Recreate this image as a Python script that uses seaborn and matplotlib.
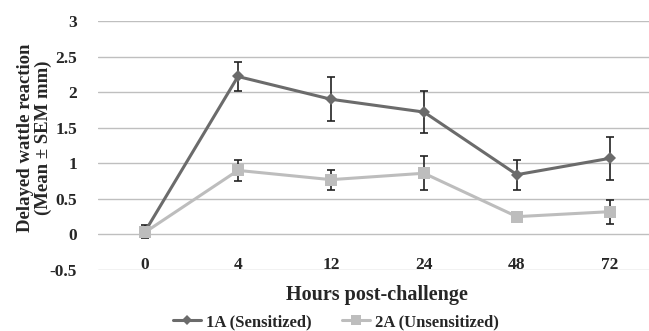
import matplotlib
matplotlib.use("Agg")
import matplotlib.pyplot as plt
import seaborn as sns
import pandas as pd

hours = ["0", "4", "12", "24", "48", "72"]
sensitized = [0.04, 2.22, 1.90, 1.72, 0.84, 1.07]
sensitized_sem = [0.09, 0.20, 0.31, 0.29, 0.21, 0.30]
unsensitized = [0.03, 0.90, 0.77, 0.86, 0.25, 0.32]
unsensitized_sem = [0.05, 0.15, 0.14, 0.24, 0.03, 0.17]
y_ticks = [-0.5, 0, 0.5, 1, 1.5, 2, 2.5, 3]
y_tick_labels = ["-0.5", "0", "0.5", "1", "1.5", "2", "2.5", "3"]

series_names = ["1A (Sensitized)", "2A (Unsensitized)"]

df = pd.DataFrame({
    "pos": list(range(len(hours))) * 2,
    "value": sensitized + unsensitized,
    "sem": sensitized_sem + unsensitized_sem,
    "group": [series_names[0]] * len(hours) + [series_names[1]] * len(hours),
})

sns.set_style("white")
plt.rcParams['font.family'] = ['Liberation Serif', 'DejaVu Serif']
plt.rcParams['font.weight'] = 'bold'

colors = {series_names[0]: "#6b6b6b", series_names[1]: "#bdbdbd"}
markers = {series_names[0]: "D", series_names[1]: "s"}
sizes = {series_names[0]: 6, series_names[1]: 8}

fig = plt.figure(figsize=(6.49, 3.31), dpi=100)
ax = fig.add_axes([98 / 649, 1 - 270 / 331, 1 - 98 / 649, (270 - 21) / 331])

for name in series_names:
    sub = df[df["group"] == name]
    ax.errorbar(sub["pos"], sub["value"], yerr=sub["sem"], fmt="none",
                ecolor="#222222", elinewidth=1.2, capsize=3, capthick=1.2, zorder=3)

sns.lineplot(data=df, x="pos", y="value", hue="group", style="group",
             palette=colors, markers=markers, dashes=False, linewidth=2.2,
             markeredgewidth=0, ax=ax, zorder=4, legend=False)
for line, name in zip(ax.lines[-2:], series_names):
    line.set_markersize(sizes[name])

ax.set_xlim(-0.505, 5.42)
ax.set_ylim(-0.5, 3)
ax.set_yticks(y_ticks, y_tick_labels)
ax.set_xticks(range(len(hours)), hours)
ax.grid(axis="y", color="#bfbfbf", linewidth=1)
ax.set_axisbelow(True)
for s in ["top", "right", "left"]:
    ax.spines[s].set_visible(False)
ax.spines["bottom"].set_position(("data", 0))
ax.spines["bottom"].set_visible(False)
ax.tick_params(axis="both", length=0, labelsize=12.5)
ax.tick_params(axis="x", pad=16)
ax.tick_params(axis="y", pad=15)
for lbl in ax.get_xticklabels() + ax.get_yticklabels():
    lbl.set_fontweight("bold")

ax.set_xlabel("")
ax.set_ylabel("Delayed wattle reaction\n(Mean \u00b1 SEM mm)", fontsize=13.5,
              fontweight="bold", linespacing=1.05)
ax.yaxis.set_label_coords(-0.083, 0.53)
fig.text(377 / 649, 1 - 295 / 331, "Hours post-challenge", ha="center", va="center",
         fontsize=14.5, fontweight="bold")

handles = [plt.Line2D([], [], color=colors[n], marker=markers[n], markersize=sizes[n] - 1,
                      markeredgewidth=0, linewidth=2.2) for n in series_names]
fig.legend(handles, series_names, loc="center", bbox_to_anchor=(336 / 649, 1 - 322 / 331),
           ncol=2, frameon=False, prop={"size": 12, "weight": "bold"},
           handlelength=1.7, handletextpad=0.3, columnspacing=1.8)

fig.savefig("out.png", dpi=100)
